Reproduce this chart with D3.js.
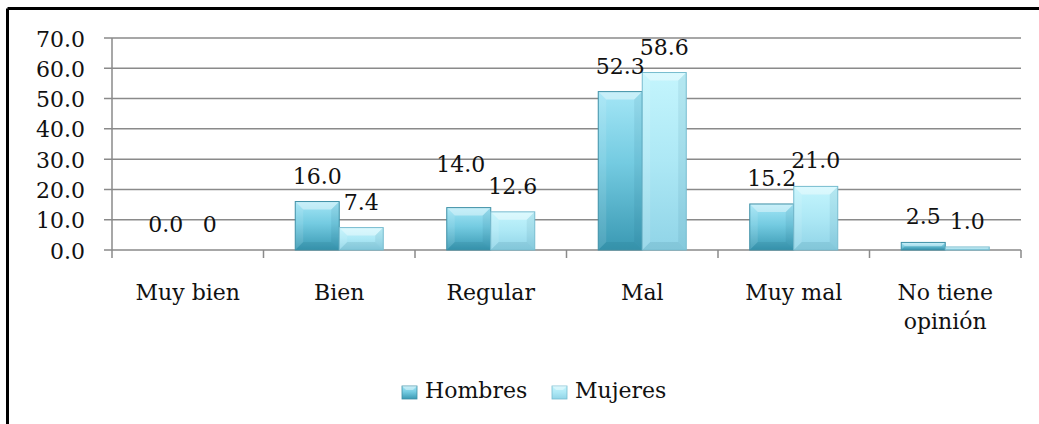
<!DOCTYPE html>
<html>
<head>
<meta charset="utf-8">
<script src="https://cdn.jsdelivr.net/npm/d3@7/dist/d3.min.js"></script>
<style>
  html, body { margin: 0; padding: 0; background: #fff; }
  svg { display: block; }
  text { font-family: "DejaVu Serif", "Liberation Serif", serif; fill: #111; }
</style>
</head>
<body>
<svg id="chart" width="1039" height="424"></svg>
<script>
// Opinion by sex (percent)
const categories = ["Muy bien", "Bien", "Regular", "Mal", "Muy mal", "No tiene opinión"];
const series = ["Hombres", "Mujeres"];
const hombres = [0.0, 16.0, 14.0, 52.3, 15.2, 2.5];
const mujeres = [0, 7.4, 12.6, 58.6, 21.0, 1.0];
const labelsHombres = ["0.0", "16.0", "14.0", "52.3", "15.2", "2.5"];
const labelsMujeres = ["0", "7.4", "12.6", "58.6", "21.0", "1.0"];
const yTicks = [0, 10, 20, 30, 40, 50, 60, 70];

const svg = d3.select("#chart");
const W = 1039, H = 424;
const plot = { left: 112, right: 1021, top: 38, bottom: 250 };
const FS = 22;

// Frame (only top/left edges fall inside the canvas)
svg.append("line").attr("x1", 7.5).attr("x2", W).attr("y1", 8.5).attr("y2", 8.5)
  .attr("stroke", "#000").attr("stroke-width", 3);
svg.append("line").attr("x1", 7.5).attr("x2", 7.5).attr("y1", 8.5).attr("y2", H)
  .attr("stroke", "#000").attr("stroke-width", 3);

const y = d3.scaleLinear().domain([0, 70]).range([plot.bottom, plot.top]);
const x0 = d3.scaleBand().domain(categories).range([plot.left, plot.right]).paddingInner(0).paddingOuter(0);
const barW = 44;
const x1 = d3.scaleBand().domain(series)
  .range([x0.bandwidth() / 2 - barW, x0.bandwidth() / 2 + barW]).padding(0);

// Gradients
const defs = svg.append("defs");
function grad(id, stops) {
  const g = defs.append("linearGradient").attr("id", id)
    .attr("x1", 0).attr("y1", 0).attr("x2", 0).attr("y2", 1);
  stops.forEach(s => g.append("stop").attr("offset", s[0]).attr("stop-color", s[1]));
}
grad("gH", [[0, "#a4e6f6"], [0.45, "#74cbe1"], [1, "#3a99b3"]]);
grad("gM", [[0, "#c4f5fd"], [0.5, "#ade8f5"], [1, "#90d4e7"]]);
const fills = { Hombres: "url(#gH)", Mujeres: "url(#gM)" };
const strokes = { Hombres: "#3f90a6", Mujeres: "#77bccf" };

// Gridlines and y axis
const grid = svg.append("g");
grid.selectAll("line").data(yTicks).join("line")
  .attr("x1", plot.left - 8).attr("x2", plot.right)
  .attr("y1", d => y(d)).attr("y2", d => y(d))
  .attr("stroke", "#8a8a8a").attr("stroke-width", 1.5);
svg.append("line").attr("x1", plot.left).attr("x2", plot.left)
  .attr("y1", plot.top).attr("y2", plot.bottom)
  .attr("stroke", "#8a8a8a").attr("stroke-width", 1.5);
svg.append("g").selectAll("text").data(yTicks).join("text")
  .attr("x", 85).attr("y", d => y(d) + 8.5)
  .attr("text-anchor", "end").attr("font-size", FS)
  .text(d => d.toFixed(1));

// Category ticks on x axis
const bounds = categories.map(c => x0(c)).concat([plot.right]);
svg.append("g").selectAll("line").data(bounds).join("line")
  .attr("x1", d => d).attr("x2", d => d)
  .attr("y1", plot.bottom).attr("y2", plot.bottom + 8)
  .attr("stroke", "#8a8a8a").attr("stroke-width", 1.5);

// Bars with bevel
const rows = categories.map((c, i) => ({
  cat: c,
  vals: [
    { s: "Hombres", v: hombres[i], label: labelsHombres[i] },
    { s: "Mujeres", v: mujeres[i], label: labelsMujeres[i] }
  ]
}));

const bevel = 8;
const barsG = svg.append("g");
rows.forEach(r => {
  r.vals.forEach(d => {
    const bx = x0(r.cat) + x1(d.s);
    const by = y(d.v);
    const bh = y(0) - by;
    if (bh <= 0) return;
    const g = barsG.append("g");
    g.append("rect").attr("x", bx).attr("y", by).attr("width", barW).attr("height", bh)
      .attr("fill", fills[d.s]);
    const b = Math.min(bevel, bh / 2, barW / 2);
    const x2 = bx + barW, y2 = by + bh;
    // top facet
    g.append("polygon").attr("points", [[bx, by], [x2, by], [x2 - b, by + b], [bx + b, by + b]].join(" "))
      .attr("fill", "#fff").attr("opacity", 0.4);
    // left facet
    g.append("polygon").attr("points", [[bx, by], [bx + b, by + b], [bx + b, y2 - b], [bx, y2]].join(" "))
      .attr("fill", "#fff").attr("opacity", 0.1);
    // right facet
    g.append("polygon").attr("points", [[x2, by], [x2, y2], [x2 - b, y2 - b], [x2 - b, by + b]].join(" "))
      .attr("fill", "#0a4f63").attr("opacity", 0.08);
    // bottom facet
    g.append("polygon").attr("points", [[bx, y2], [bx + b, y2 - b], [x2 - b, y2 - b], [x2, y2]].join(" "))
      .attr("fill", "#0a4f63").attr("opacity", 0.1);
    g.append("rect").attr("x", bx).attr("y", by).attr("width", barW).attr("height", bh)
      .attr("fill", "none").attr("stroke", strokes[d.s]).attr("stroke-width", 1);
  });
});

// Value labels: above each bar; a label that collides with its neighbour is lifted
const labG = svg.append("g");
rows.forEach(r => {
  const pos = r.vals.map(d => ({
    d,
    cx: x0(r.cat) + x1(d.s) + barW / 2,
    by: y(d.v) - 18
  }));
  const w = t => t.length * 11;
  const [h, m] = pos;
  const overlapX = (h.cx + w(h.d.label) / 2) > (m.cx - w(m.d.label) / 2) - 1;
  if (overlapX && Math.abs(h.by - m.by) < 14) {
    h.by = m.by - 22;
    h.cx -= 8;
  }
  pos.forEach(p => {
    labG.append("text").attr("x", p.cx).attr("y", p.by)
      .attr("text-anchor", "middle").attr("font-size", FS)
      .text(p.d.label);
  });
});

// Category labels (wrapped)
const wrapLines = { "No tiene opinión": ["No tiene", "opinión"] };
const catG = svg.append("g");
categories.forEach(c => {
  const lines = wrapLines[c] || [c];
  const t = catG.append("text").attr("x", x0(c) + x0.bandwidth() / 2).attr("y", 300)
    .attr("text-anchor", "middle").attr("font-size", FS);
  lines.forEach((ln, i) => {
    t.append("tspan").attr("x", x0(c) + x0.bandwidth() / 2).attr("dy", i === 0 ? 0 : 29).text(ln);
  });
});

// Legend
const legendX = [402, 552];
const legG = svg.append("g");
series.forEach((s, i) => {
  const lx = legendX[i];
  legG.append("rect").attr("x", lx).attr("y", 386).attr("width", 15).attr("height", 13)
    .attr("fill", fills[s]).attr("stroke", strokes[s]).attr("stroke-width", 0.8);
  legG.append("polygon").attr("points", [[lx, 386], [lx + 15, 386], [lx + 11, 390], [lx + 4, 390]].join(" "))
    .attr("fill", "#fff").attr("opacity", 0.4);
  legG.append("text").attr("x", lx + 23).attr("y", 398).attr("font-size", FS).text(s);
});
</script>
</body>
</html>
